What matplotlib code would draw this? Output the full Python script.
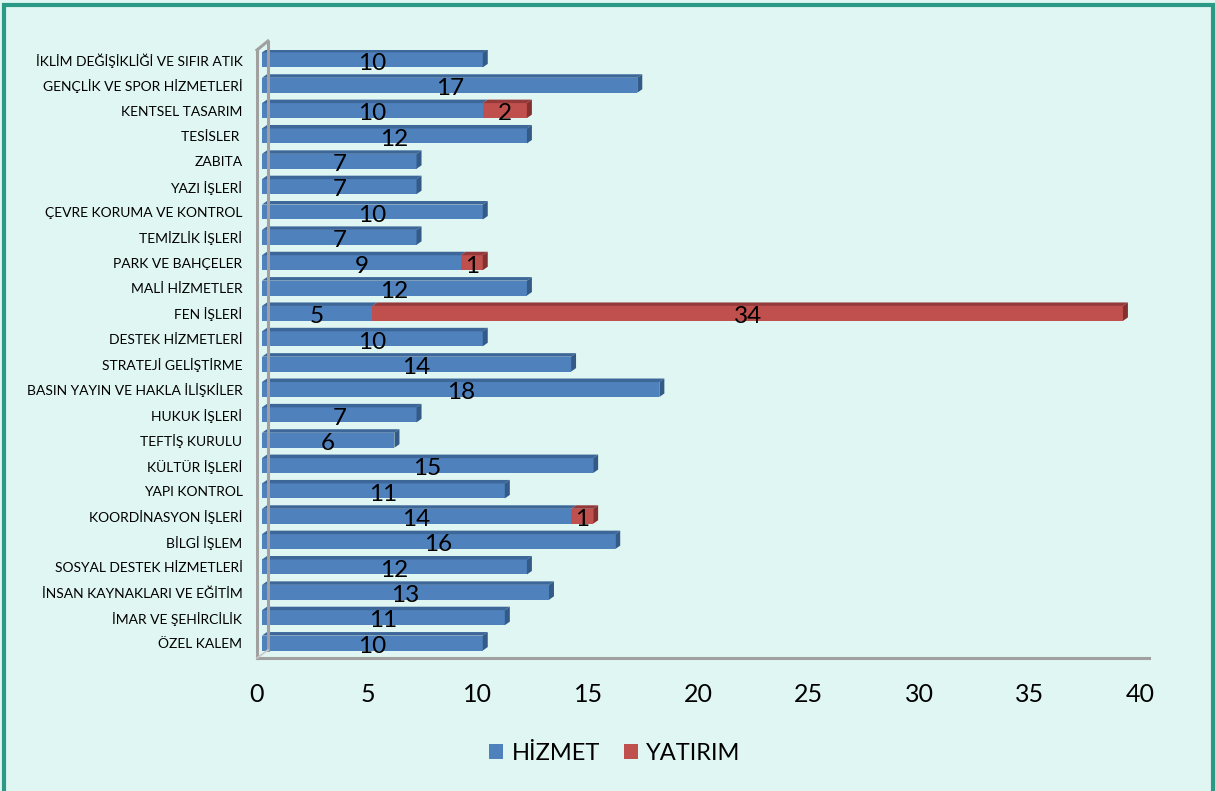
import matplotlib
matplotlib.use('Agg')
import matplotlib.pyplot as plt
import matplotlib.transforms as mtransforms
from matplotlib.patches import Polygon, Rectangle

plt.rcParams['font.family'] = ['Lato', 'DejaVu Sans']

categories = ['İKLİM DEĞİŞİKLİĞİ VE SIFIR ATIK', 'GENÇLİK VE SPOR HİZMETLERİ', 'KENTSEL TASARIM',
              'TESİSLER ', 'ZABITA', 'YAZI İŞLERİ', 'ÇEVRE KORUMA VE KONTROL', 'TEMİZLİK İŞLERİ',
              'PARK VE BAHÇELER', 'MALİ HİZMETLER', 'FEN İŞLERİ', 'DESTEK HİZMETLERİ',
              'STRATEJİ GELİŞTİRME', 'BASIN YAYIN VE HAKLA İLİŞKİLER', 'HUKUK İŞLERİ',
              'TEFTİŞ KURULU', 'KÜLTÜR İŞLERİ', 'YAPI KONTROL', 'KOORDİNASYON İŞLERİ',
              'BİLGİ İŞLEM', 'SOSYAL DESTEK HİZMETLERİ', 'İNSAN KAYNAKLARI VE EĞİTİM',
              'İMAR VE ŞEHİRCİLİK', 'ÖZEL KALEM']
hizmet = [10, 17, 10, 12, 7, 7, 10, 7, 9, 12, 5, 10, 14, 18, 7, 6, 15, 11, 14, 16, 12, 13, 11, 10]
yatirim = [0, 0, 2, 0, 0, 0, 0, 0, 1, 0, 34, 0, 0, 0, 0, 0, 0, 0, 1, 0, 0, 0, 0, 0]
series_names = ['HİZMET', 'YATIRIM']

bg = '#E0F6F2'
blue, blue_top, blue_side = '#4F81BD', '#3D6699', '#345A88'
red, red_top, red_side = '#C0504D', '#96393A', '#84302F'

W, H = 1215, 791
fig = plt.figure(figsize=(W / 100, H / 100), dpi=100, facecolor=bg)
fig.patches.append(Rectangle((4 / W, -0.05), 1209 / W, 1.05 - 4.5 / H, transform=fig.transFigure,
                             fill=False, edgecolor='#2A9A86', linewidth=3))

ax = fig.add_axes([257 / W, (H - 658) / H, 883 / W, 608 / H])
ax.set_facecolor('none')
n = len(categories)
ax.set_xlim(0, 40)
ax.set_ylim(-0.59, n - 1 + 0.39)
for s in ax.spines.values():
    s.set_visible(False)

# wall and floor lines (3D look)
back = ax.transAxes + mtransforms.ScaledTranslation(11 / 100, 8 / 100, fig.dpi_scale_trans)
wall = dict(color='#A0A0A0', lw=2.2, clip_on=False)
ax.plot([0, 0], [0, 1], transform=ax.transAxes, **wall)
ax.plot([0, 0], [0, 1], transform=back, **wall)
ax.plot([0, 1.0102], [0, 0], transform=ax.transAxes, **wall)
ax.plot([0, 11 / 883], [1, 1 + 9 / 608], transform=ax.transAxes, **wall)
ax.plot([0, 11 / 883], [0, 8 / 608], transform=ax.transAxes, color='#C8C8C8', lw=1.2, clip_on=False)

# bars, shifted slightly into depth
bar_tr = ax.transData + mtransforms.ScaledTranslation(5 / 100, 0, fig.dpi_scale_trans)
ppx = 883 / 40
ppy = 608 / (n - 1 + 0.98)
dx, dy = 5 / ppx, 3.5 / ppy
h = 0.59
ys = [n - 1 - i for i in range(n)]

b1 = ax.barh(ys, hizmet, height=h, color=blue, label=series_names[0])
b2 = ax.barh(ys, yatirim, left=hizmet, height=h, color=red, label=series_names[1])
for p in list(b1) + list(b2):
    p.set_transform(bar_tr)

for y, a, b in zip(ys, hizmet, yatirim):
    segs = [(0, a, blue, blue_top, blue_side)]
    if b > 0:
        segs.append((a, b, red, red_top, red_side))
    yt = y + h / 2
    yb = y - h / 2
    for k, (x0, w, c, ct, cs) in enumerate(segs):
        x1 = x0 + w
        ax.add_patch(Polygon([(x0, yt), (x1, yt), (x1 + dx, yt + dy), (x0 + dx, yt + dy)],
                             closed=True, facecolor=ct, edgecolor='none', transform=bar_tr))
        if k == len(segs) - 1:
            ax.add_patch(Polygon([(x1, yb), (x1, yt), (x1 + dx, yt + dy), (x1 + dx, yb + dy)],
                                 closed=True, facecolor=cs, edgecolor='none', transform=bar_tr))
        ax.text(x0 + w / 2, y - 0.13, str(w), ha='center', va='center', fontsize=17.5,
                color='black', transform=bar_tr)

ax.set_yticks(ys)
ax.set_yticklabels(categories, fontsize=10)
ax.set_xticks(range(0, 41, 5))
ax.tick_params(axis='y', length=0, pad=10.5)
ax.tick_params(axis='x', length=0, pad=18, labelsize=18)

fig.legend(handles=[b1, b2], labels=series_names, loc='center', bbox_to_anchor=(0.506, 0.048),
           ncol=2, frameon=False, fontsize=17, handlelength=0.6, handleheight=0.6,
           handletextpad=0.35, columnspacing=1.0)

fig.savefig('out.png', dpi=100, facecolor=bg)
